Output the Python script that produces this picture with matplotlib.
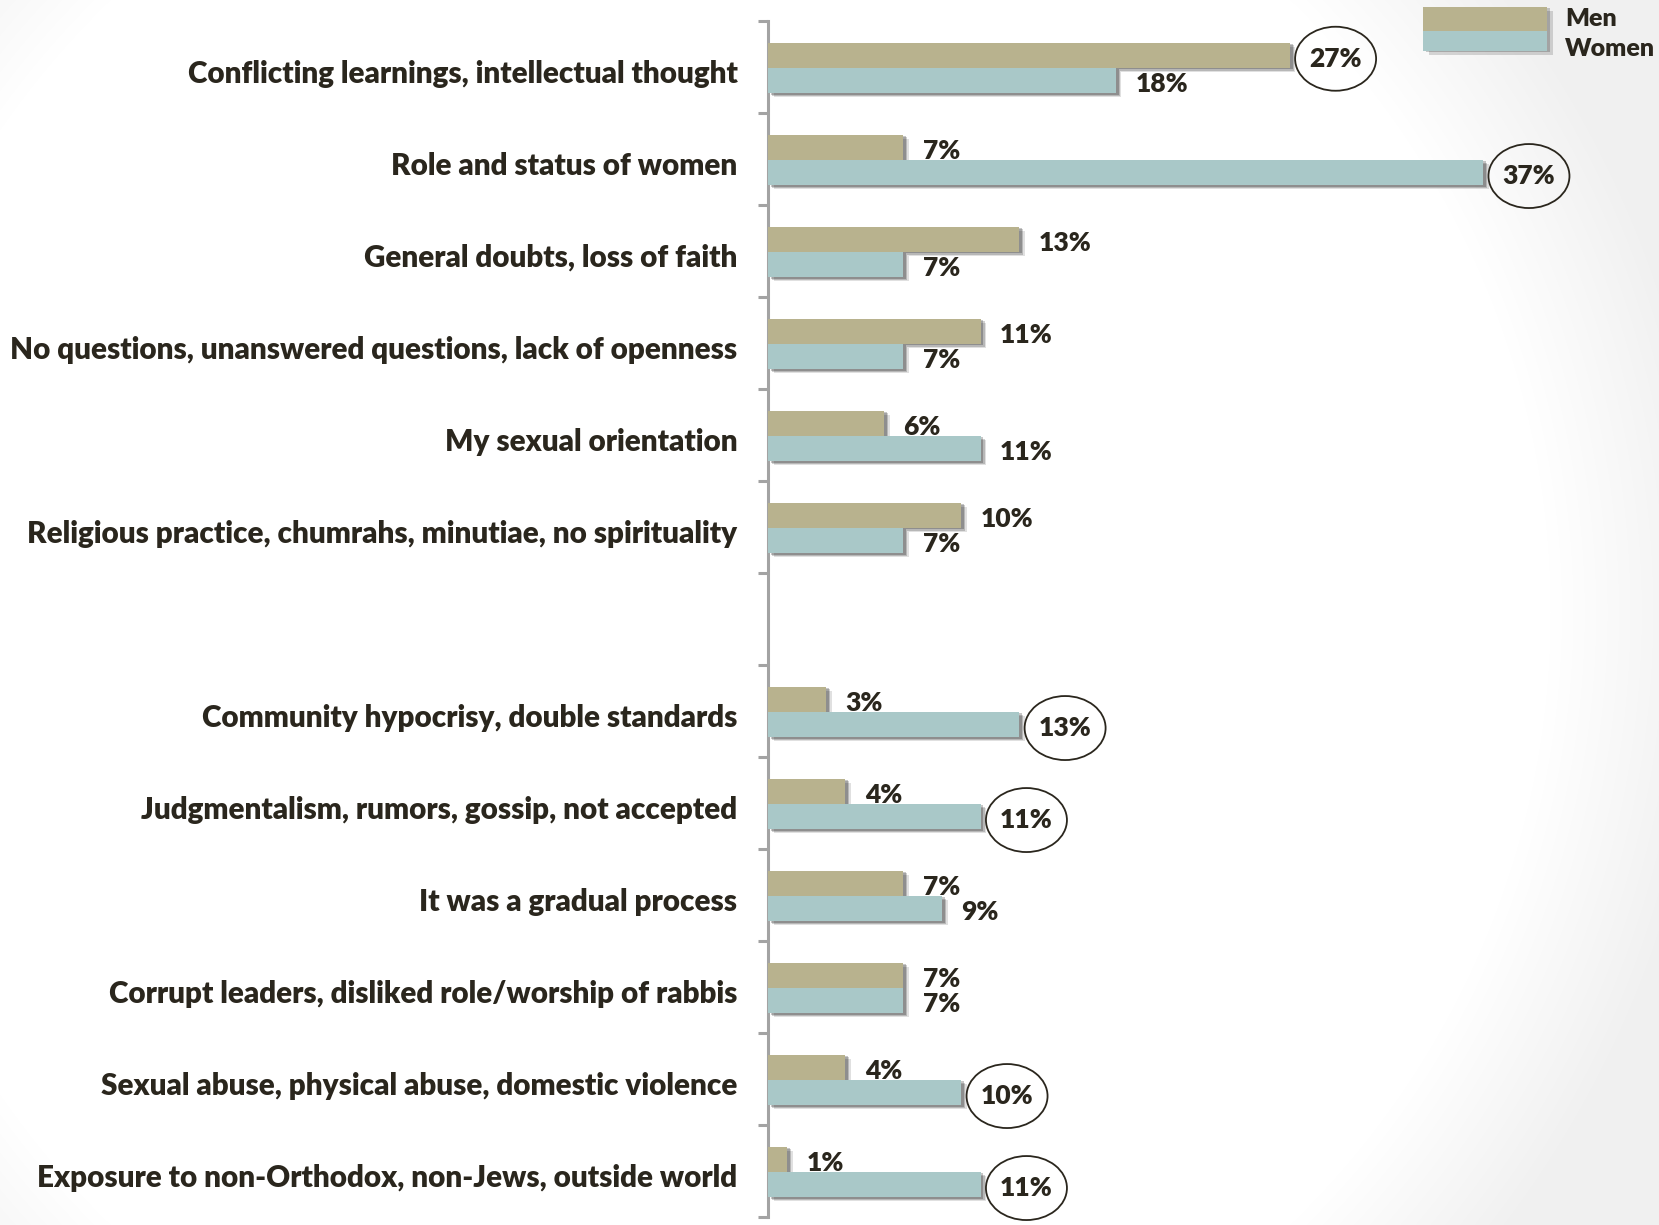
import numpy as np
import matplotlib
matplotlib.use("Agg")
import matplotlib.pyplot as plt
from matplotlib.patches import Ellipse, Rectangle
from matplotlib import patheffects as pe

# ---- data ----
categories = [
    "Conflicting learnings, intellectual thought",
    "Role and status of women",
    "General doubts, loss of faith",
    "No questions, unanswered questions, lack of openness",
    "My sexual orientation",
    "Religious practice, chumrahs, minutiae, no spirituality",
    "",
    "Community hypocrisy, double standards",
    "Judgmentalism, rumors, gossip, not accepted",
    "It was a gradual process",
    "Corrupt leaders, disliked role/worship of rabbis",
    "Sexual abuse, physical abuse, domestic violence",
    "Exposure to non-Orthodox, non-Jews, outside world",
]
men = [27, 7, 13, 11, 6, 10, None, 3, 4, 7, 7, 4, 1]
women = [18, 37, 7, 7, 11, 7, None, 13, 11, 9, 7, 10, 11]
men_circled = [True, False, False, False, False, False, None, False, False, False, False, False, False]
women_circled = [False, True, False, False, False, False, None, True, True, False, False, True, True]
series_names = ["Men", "Women"]

MEN_C = "#b8b28e"
WOMEN_C = "#a9c8c8"
TEXT_C = "#2a261d"
AXIS_C = "#a3a3a3"
FONT = "Lato"
WEIGHT = "heavy"

W, H, DPI = 1659, 1225, 100
fig = plt.figure(figsize=(W / DPI, H / DPI), dpi=DPI)

# soft radial background shading toward the right edge
bg = fig.add_axes([0, 0, 1, 1], zorder=-10)
yy, xx = np.mgrid[0:H, 0:W]
r = np.hypot(xx - 700, yy - 612)
shade = 1.0 - 0.055 * np.clip((r - 850) / 160, 0, 1)
bg.imshow(np.dstack([shade] * 3), extent=[0, W, H, 0], aspect="auto", interpolation="bilinear")
bg.set_axis_off()

# main axes: left spine at x=768px, rows span y=21..1217px
x0, top, bot = 768, 21, 1217
px_per_unit = 19.33
ax = fig.add_axes([x0 / W, (H - bot) / H, (W - x0) / W, (bot - top) / H])
ax.set_xlim(0, (W - x0) / px_per_unit)
n = len(categories)
ax.set_ylim(n, 0)
ax.patch.set_alpha(0)

for s in ["top", "right", "bottom"]:
    ax.spines[s].set_visible(False)
ax.spines["left"].set_color(AXIS_C)
ax.spines["left"].set_linewidth(2.2)
ax.set_xticks([])

centers = np.arange(n) + 0.5
ax.set_yticks(centers + 0.045)
ax.set_yticklabels(categories, fontsize=21.3, fontweight=WEIGHT, color=TEXT_C, fontfamily=FONT)
ax.tick_params(axis="y", which="major", length=0, pad=22)
ax.set_yticks(np.arange(n + 1), minor=True)
ax.tick_params(axis="y", which="minor", length=7, width=2.2, color=AXIS_C)

bar_h = 0.275
shadow = [
    pe.SimplePatchShadow(offset=(4, -3), shadow_rgbFace="k", alpha=0.12),
    pe.SimplePatchShadow(offset=(3, -2), shadow_rgbFace="k", alpha=0.18),
    pe.SimplePatchShadow(offset=(2, -1), shadow_rgbFace="k", alpha=0.22),
    pe.Normal(),
]

labels = []
for i in range(n):
    if men[i] is None:
        continue
    yc = centers[i] + 0.01
    for val, circ, col, yb in [
        (men[i], men_circled[i], MEN_C, yc - bar_h / 2),
        (women[i], women_circled[i], WOMEN_C, yc + bar_h / 2),
    ]:
        b = ax.barh(yb, val, height=bar_h, color=col, zorder=3)
        for p in b:
            p.set_path_effects(shadow)
        t = ax.annotate(f"{val}%", xy=(val, yb), xytext=(14, -2.5), textcoords="offset points",
                        ha="left", va="center", fontsize=19, fontweight=WEIGHT,
                        color=TEXT_C, fontfamily=FONT, zorder=5)
        labels.append((t, circ))

# ellipses around highlighted values
fig.canvas.draw()
renderer = fig.canvas.get_renderer()
for t, circ in labels:
    if not circ:
        continue
    bb = t.get_window_extent(renderer)
    cx, cy = (bb.x0 + bb.x1) / 2, (bb.y0 + bb.y1) / 2
    e = Ellipse((cx / DPI, cy / DPI), 81 / DPI, 64 / DPI, fill=False, edgecolor=TEXT_C,
                linewidth=1.3, transform=fig.dpi_scale_trans, zorder=6)
    fig.add_artist(e)

# legend swatches
def fy(py):
    return 1 - py / H

sw_shadow = [
    pe.SimplePatchShadow(offset=(4, -3), shadow_rgbFace="k", alpha=0.15),
    pe.SimplePatchShadow(offset=(2, -1), shadow_rgbFace="k", alpha=0.2),
    pe.Normal(),
]
for name, col, ytop, ybot, ty in [
    (series_names[0], MEN_C, 7, 31, 19),
    (series_names[1], WOMEN_C, 31, 51, 49),
]:
    rect = Rectangle((1423 / W, fy(ybot)), (1547 - 1423) / W, (ybot - ytop) / H,
                     transform=fig.transFigure, facecolor=col, edgecolor="none", zorder=4)
    rect.set_path_effects(sw_shadow)
    fig.add_artist(rect)
    fig.text(1565 / W, fy(ty), name, ha="left", va="center", fontsize=18, fontweight=WEIGHT,
             color=TEXT_C, fontfamily=FONT)

fig.savefig("out.png", dpi=DPI)
